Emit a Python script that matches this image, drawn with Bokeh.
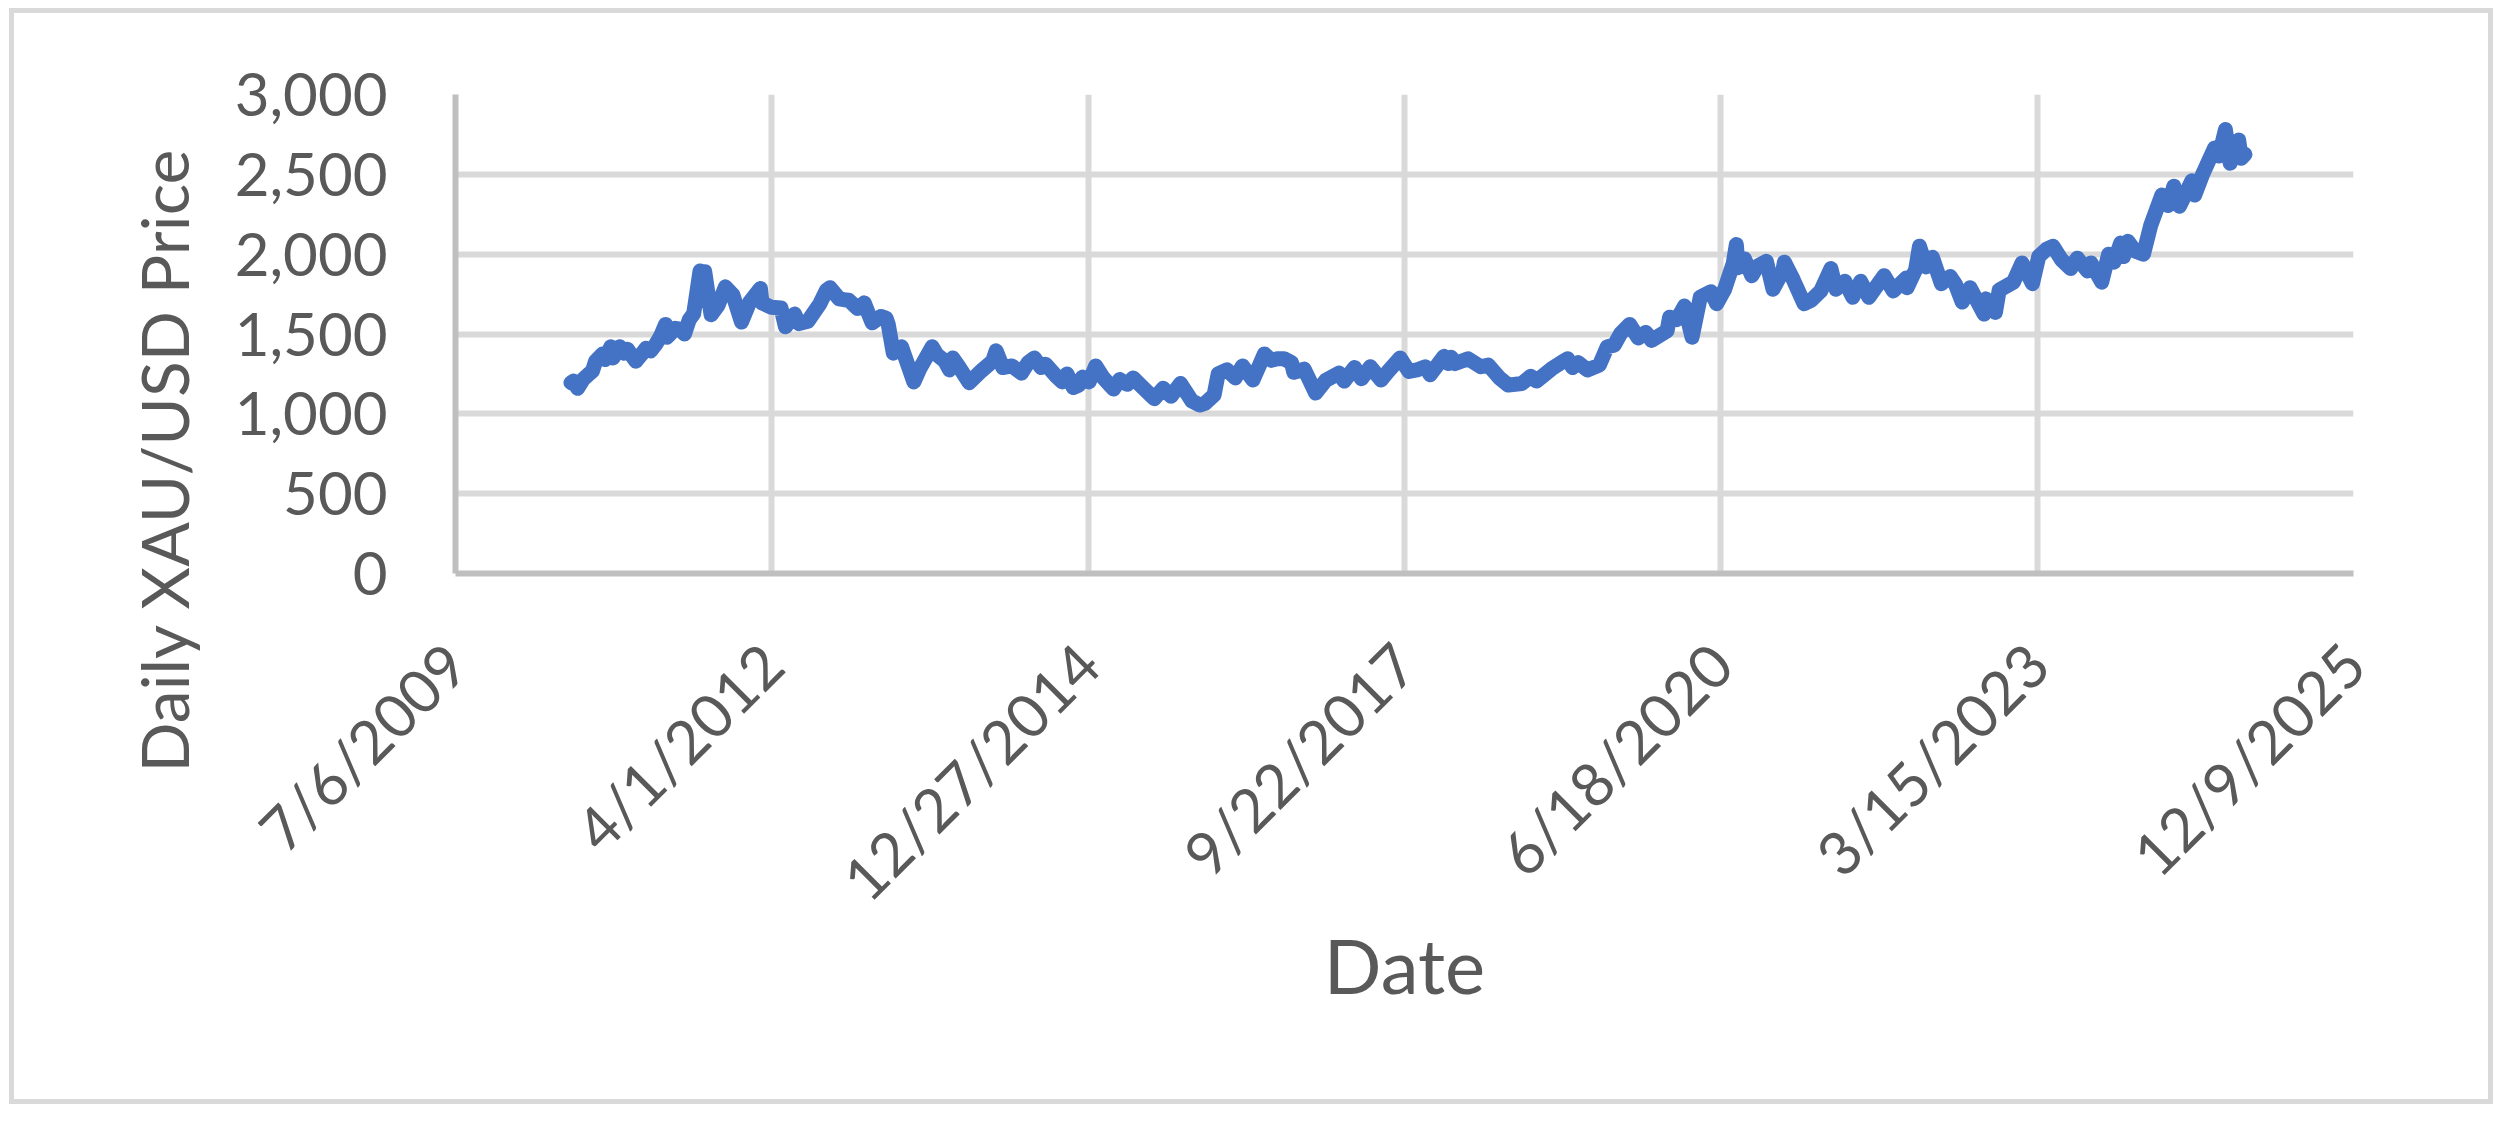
import pandas as pd
from math import pi
from bokeh.plotting import figure
from bokeh.models import FixedTicker, NumeralTickFormatter, Range1d, Title
from bokeh.embed import file_html
from bokeh.resources import INLINE

# ---------------- data ----------------
dates = [
    "2010-07-06", "2010-07-15", "2010-07-27", "2010-08-13", "2010-08-31", "2010-09-12",
    "2010-09-22", "2010-10-14", "2010-10-22", "2010-11-09", "2010-11-16", "2010-12-07",
    "2010-12-20", "2010-12-31", "2011-01-27", "2011-02-15", "2011-02-28", "2011-03-15",
    "2011-03-31", "2011-04-15", "2011-05-01", "2011-05-05", "2011-05-13", "2011-05-31",
    "2011-06-15", "2011-06-30", "2011-07-15", "2011-07-29", "2011-08-08", "2011-08-18",
    "2011-08-25", "2011-09-02", "2011-09-22", "2011-10-14", "2011-11-06", "2011-11-30",
    "2011-12-27", "2012-01-22", "2012-02-25", "2012-03-01", "2012-03-30", "2012-04-30",
    "2012-05-14", "2012-06-12", "2012-06-26", "2012-07-24", "2012-08-31", "2012-09-21",
    "2012-10-02", "2012-10-31", "2012-11-15", "2012-11-30", "2012-12-28", "2013-01-18",
    "2013-02-12", "2013-03-12", "2013-03-28", "2013-04-04", "2013-04-20", "2013-05-16",
    "2013-06-24", "2013-07-12", "2013-08-21", "2013-09-05", "2013-09-30", "2013-10-15",
    "2013-10-25", "2013-11-15", "2013-12-16", "2014-01-24", "2014-02-28", "2014-03-11",
    "2014-04-01", "2014-04-30", "2014-05-30", "2014-06-20", "2014-07-10", "2014-07-31",
    "2014-08-15", "2014-09-15", "2014-10-06", "2014-10-21", "2014-11-10", "2014-11-28",
    "2014-12-09", "2014-12-30", "2015-01-20", "2015-02-13", "2015-03-17", "2015-04-06",
    "2015-04-30", "2015-05-18", "2015-06-10", "2015-07-24", "2015-08-21", "2015-09-15",
    "2015-10-15", "2015-11-20", "2015-12-15", "2015-12-31", "2016-01-29", "2016-02-11",
    "2016-03-10", "2016-04-05", "2016-04-28", "2016-05-31", "2016-06-24", "2016-07-06",
    "2016-07-28", "2016-08-16", "2016-09-06", "2016-09-30", "2016-10-07", "2016-11-09",
    "2016-12-15", "2017-01-16", "2017-02-27", "2017-03-15", "2017-04-17", "2017-05-09",
    "2017-06-06", "2017-07-10", "2017-08-01", "2017-09-08", "2017-10-06", "2017-10-31",
    "2017-11-27", "2017-12-12", "2018-01-25", "2018-02-08", "2018-02-16", "2018-03-01",
    "2018-04-11", "2018-05-21", "2018-06-14", "2018-07-19", "2018-08-16", "2018-09-28",
    "2018-10-26", "2018-11-13", "2018-12-31", "2019-01-31", "2019-02-20", "2019-03-07",
    "2019-03-25", "2019-04-23", "2019-05-31", "2019-06-25", "2019-07-17", "2019-08-07",
    "2019-09-04", "2019-10-01", "2019-10-25", "2019-11-12", "2019-12-31", "2020-01-08",
    "2020-01-31", "2020-02-24", "2020-03-19", "2020-04-14", "2020-05-18", "2020-06-05",
    "2020-06-30", "2020-07-27", "2020-08-06", "2020-08-12", "2020-09-01", "2020-09-24",
    "2020-10-12", "2020-11-09", "2020-11-30", "2020-12-31", "2021-01-05", "2021-02-02",
    "2021-03-08", "2021-03-31", "2021-04-30", "2021-06-01", "2021-06-17", "2021-07-15",
    "2021-08-09", "2021-09-03", "2021-09-29", "2021-10-22", "2021-11-16", "2021-12-15",
    "2022-01-25", "2022-01-28", "2022-02-24", "2022-03-08", "2022-03-29", "2022-04-18",
    "2022-05-16", "2022-06-13", "2022-06-30", "2022-07-21", "2022-08-15", "2022-09-28",
    "2022-10-04", "2022-11-03", "2022-11-15", "2022-12-30", "2023-01-26", "2023-02-28",
    "2023-03-20", "2023-04-13", "2023-05-04", "2023-05-31", "2023-06-29", "2023-07-20",
    "2023-08-21", "2023-09-01", "2023-10-05", "2023-10-27", "2023-11-13", "2023-12-04",
    "2023-12-13", "2023-12-27", "2024-01-18", "2024-02-14", "2024-03-08", "2024-04-12",
    "2024-04-22", "2024-05-02", "2024-05-20", "2024-06-07", "2024-07-16", "2024-07-25",
    "2024-08-20", "2024-09-26", "2024-10-10", "2024-10-30", "2024-11-14", "2024-11-25",
    "2024-12-11", "2024-12-19", "2024-12-31",
]
prices = [
    1195, 1205, 1160, 1215, 1248, 1268,
    1330, 1375, 1340, 1420, 1350, 1420,
    1380, 1405, 1330, 1375, 1410, 1395,
    1435, 1485, 1560, 1480, 1495, 1536,
    1530, 1500, 1590, 1628, 1760, 1895,
    1710, 1890, 1620, 1680, 1795, 1745,
    1575, 1700, 1785, 1695, 1668, 1663,
    1545, 1625, 1565, 1580, 1690, 1775,
    1790, 1720, 1715, 1712, 1660, 1695,
    1570, 1610, 1600, 1560, 1380, 1420,
    1200, 1280, 1420, 1370, 1330, 1275,
    1350, 1290, 1195, 1270, 1330, 1395,
    1290, 1300, 1255, 1320, 1350, 1290,
    1310, 1240, 1200, 1250, 1165, 1180,
    1230, 1200, 1300, 1225, 1155, 1215,
    1185, 1225, 1180, 1095, 1160, 1110,
    1190, 1080, 1055, 1065, 1118, 1250,
    1275, 1225, 1300, 1212, 1320, 1375,
    1335, 1345, 1345, 1320, 1260, 1280,
    1130, 1210, 1255, 1205, 1290, 1220,
    1295, 1212, 1265, 1350, 1265, 1275,
    1295, 1245, 1360, 1315, 1355, 1315,
    1345, 1295, 1305, 1225, 1180, 1190,
    1235, 1205, 1282, 1322, 1345, 1290,
    1320, 1275, 1305, 1420, 1430, 1505,
    1560, 1475, 1510, 1460, 1520, 1605,
    1590, 1675, 1480, 1730, 1765, 1690,
    1780, 1940, 2060, 1915, 1970, 1865,
    1925, 1955, 1780, 1895, 1950, 1840,
    1690, 1712, 1770, 1910, 1780, 1830,
    1730, 1830, 1730, 1795, 1865, 1770,
    1850, 1790, 1905, 2050, 1920, 1980,
    1815, 1860, 1810, 1700, 1790, 1625,
    1720, 1635, 1775, 1825, 1945, 1815,
    1985, 2030, 2050, 1965, 1910, 1975,
    1895, 1945, 1825, 2000, 1950, 2070,
    1985, 2080, 2020, 2000, 2180, 2370,
    2320, 2305, 2425, 2300, 2460, 2370,
    2505, 2665, 2615, 2780, 2570, 2630,
    2715, 2600, 2625,
]
x_tick_labels = ["7/6/2009", "4/1/2012", "12/27/2014", "9/22/2017",
                 "6/18/2020", "3/15/2023", "12/9/2025"]
y_ticks = [0, 500, 1000, 1500, 2000, 2500, 3000]
x_title = "Date"
y_title = "Daily XAU/USD Price"

# Excel-style date serial numbers
EPOCH = pd.Timestamp("1899-12-30")
xs = [int((pd.Timestamp(d) - EPOCH).days) for d in dates]
x_ticks = [int((pd.to_datetime(s, format="%m/%d/%Y") - EPOCH).days) for s in x_tick_labels]

TXT = "#595959"
FONT = "Lato"
W, H = 2484, 1096

p = figure(width=W, height=H, output_backend="svg", toolbar_location=None,
           x_range=Range1d(x_ticks[0], x_ticks[-1]), y_range=Range1d(y_ticks[0], y_ticks[-1]),
           min_border_left=441, min_border_right=145, min_border_top=81,
           min_border_bottom=536)
# chart-area border
p.styles = {"border": "5px solid #d9d9d9", "transform": "translate(9px, 8px)"}
p.outline_line_color = None
p.background_fill_color = "white"
p.border_fill_color = "white"

p.line(xs, prices, line_color="#4472C4", line_width=15,
       line_join="round", line_cap="round")

for ax in p.axis:
    ax.major_tick_line_color = None
    ax.minor_tick_line_color = None
    ax.major_tick_out = 0
    ax.major_tick_in = 0
    ax.axis_line_color = "#bfbfbf"
    ax.axis_line_width = 6
    ax.major_label_text_font = FONT
    ax.major_label_text_font_size = "60px"
    ax.major_label_text_color = TXT

p.xaxis.ticker = FixedTicker(ticks=x_ticks)
p.xaxis.major_label_overrides = {t: s for t, s in zip(x_ticks, x_tick_labels)}
p.xaxis.major_label_orientation = pi / 4
p.xaxis.major_label_standoff = 80
p.xaxis.axis_label = x_title
p.xaxis.axis_label_text_font = FONT
p.xaxis.axis_label_text_font_size = "76px"
p.xaxis.axis_label_text_font_style = "normal"
p.xaxis.axis_label_text_color = TXT
p.xaxis.axis_label_standoff = -24

p.yaxis.ticker = FixedTicker(ticks=y_ticks)
p.yaxis.formatter = NumeralTickFormatter(format="0,0")
p.yaxis.major_label_standoff = 68

for g in (p.xgrid, p.ygrid):
    g.grid_line_color = "#d9d9d9"
    g.grid_line_width = 6

ytitle = Title(text=y_title, align="left", offset=-199, vertical_align="bottom",
               standoff=58, text_font=FONT, text_font_size="66px",
               text_font_style="normal", text_color=TXT)
p.add_layout(ytitle, "left")

open("out.html", "w").write(file_html(p, INLINE))
